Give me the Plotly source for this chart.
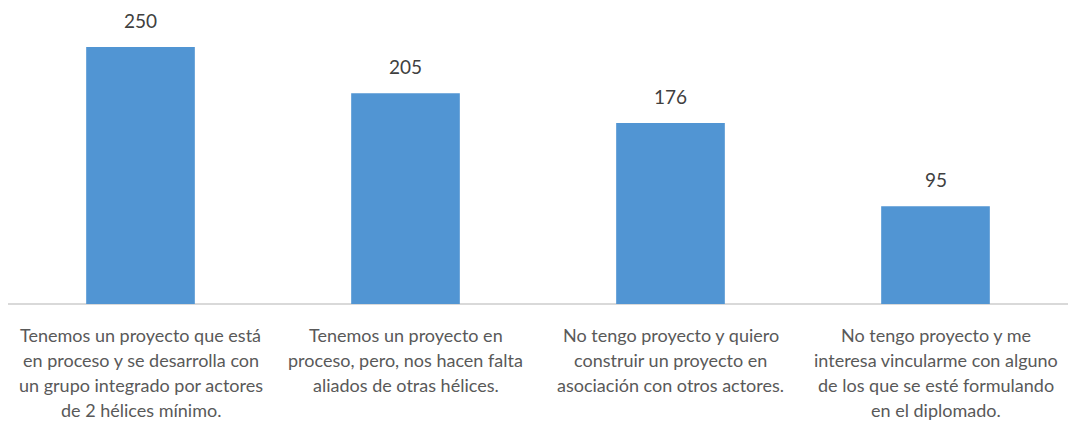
import plotly.graph_objects as go

categories = [
    "Tenemos un proyecto que está<br>en proceso y se desarrolla con<br>un grupo integrado por actores<br>de 2 hélices mínimo.",
    "Tenemos un proyecto en<br>proceso, pero, nos hacen falta<br>aliados de otras hélices.",
    "No tengo proyecto y quiero<br>construir un proyecto en<br>asociación con otros actores.",
    "No tengo proyecto y me<br>interesa vincularme con alguno<br>de los que se esté formulando<br>en el diplomado.",
]
values = [250, 205, 176, 95]

W, H = 1068, 426
plot_bottom = 304
plot_h = plot_bottom  # top margin 0
ymax = 250 * plot_h / 257.0

fig = go.Figure()
fig.add_trace(go.Bar(
    x=list(range(len(categories))), y=values,
    marker=dict(color="#5195d3", line=dict(width=0)),
    width=0.41,
))

annotations = []
for i, v in enumerate(values):
    annotations.append(dict(
        x=i, y=v, xref="x", yref="y", text=str(v), showarrow=False,
        yanchor="bottom", yshift=13,
        font=dict(family="Lato, 'Open Sans', sans-serif", size=19, color="#404040"),
    ))
line_gap = 25
for i, c in enumerate(categories):
    for j, line in enumerate(c.split("<br>")):
        annotations.append(dict(
            x=i, y=0, xref="x", yref="y", text=line, showarrow=False,
            yanchor="middle", yshift=-(31 + j * line_gap),
            font=dict(family="Lato, 'Open Sans', sans-serif", size=18, color="#595959"),
        ))

fig.update_layout(
    width=W, height=H,
    margin=dict(l=8, r=0, t=0, b=H - plot_bottom),
    plot_bgcolor="white", paper_bgcolor="white",
    showlegend=False,
    bargap=0.59,
    annotations=annotations,
    xaxis=dict(range=[-0.5, 3.5], showticklabels=False, showgrid=False, zeroline=False,
               showline=False, ticks=""),
    yaxis=dict(range=[0, ymax], showticklabels=False, showgrid=False, zeroline=True,
               zerolinecolor="#d9d9d9", zerolinewidth=1.5, showline=False, ticks=""),
)

fig.write_html("out.html")
